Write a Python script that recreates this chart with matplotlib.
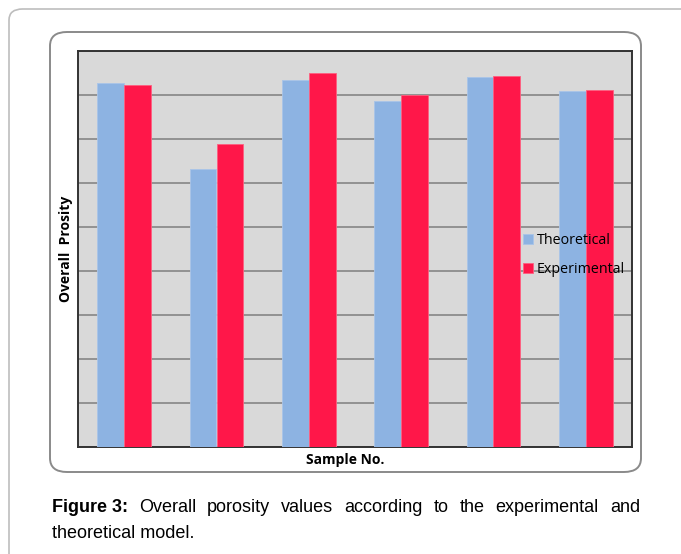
import matplotlib.pyplot as plt
import numpy as np
from matplotlib.patches import FancyBboxPatch

# porosity values (%) per sample
samples = ["1", "2", "3", "4", "5", "6"]
theoretical = [41.4, 31.6, 41.7, 39.3, 42.0, 40.5]
experimental = [41.1, 34.4, 42.5, 40.0, 42.2, 40.6]

W, H = 681, 554
fig = plt.figure(figsize=(W / 100, H / 100), dpi=100)

def fx(px):
    return px / W

def fy(py):
    return 1 - py / H

# page frame (runs off right/bottom) and rounded chart box
outer = FancyBboxPatch((fx(9), fy(600)), fx(720), (600 - 9) / H,
                       boxstyle="round,pad=0,rounding_size=0.02",
                       transform=fig.transFigure, fill=False,
                       edgecolor="#bdbdbd", lw=1.2)
fig.patches.append(outer)
inner = FancyBboxPatch((fx(50), fy(472)), fx(641 - 50), (472 - 32) / H,
                       boxstyle="round,pad=0,rounding_size=0.025",
                       transform=fig.transFigure, fill=False,
                       edgecolor="#8a8a8a", lw=1.4)
fig.patches.append(inner)

ax = fig.add_axes([fx(78), fy(447), fx(632 - 78), (447 - 51) / H])
ax.set_facecolor("#d9d9d9")

x = np.arange(len(samples))
w = 0.29
ax.bar(x - w / 2, theoretical, w, color="#8db3e2", edgecolor="#a9c4e8",
       lw=0.6, label="Theoretical", zorder=3)
ax.bar(x + w / 2, experimental, w, color="#ff1749", edgecolor="#ff5f80",
       lw=0.6, label="Experimental", zorder=3)

ax.set_xlim(-0.5, len(samples) - 0.5)
ax.set_ylim(0, 45)
ax.set_yticks(np.arange(0, 46, 5))
ax.yaxis.grid(True, color="#8c8c8c", lw=1.3, zorder=1)
ax.tick_params(left=False, bottom=False, labelleft=False, labelbottom=False)
for s in ax.spines.values():
    s.set_color("#333333")
    s.set_linewidth(1.4)

leg = ax.legend(loc="center left", bbox_to_anchor=(0.803, 0.484), frameon=False,
                prop={"family": "Open Sans", "size": 10.3}, handlelength=0.7,
                handleheight=0.7, handletextpad=0.25, labelspacing=1.0,
                borderpad=0, borderaxespad=0)
leg.set_zorder(5)

fig.text(fx(66), fy(249), "Overall  Prosity", rotation=90, ha="center",
         va="center", fontsize=10, fontweight="bold", family="Open Sans")
fig.text(fx(345.5), fy(460), "Sample No.", ha="center", va="center",
         fontsize=10, fontweight="bold", family="Open Sans")

# justified caption, first line spread across the box width
line1 = ["Overall", "porosity", "values", "according", "to", "the",
         "experimental", "and"]
fig.canvas.draw()
r = fig.canvas.get_renderer()
cap_kw = dict(fontsize=13, family="Liberation Sans", va="baseline")
y1 = fy(511.5)
head = fig.text(fx(52), y1, "Figure 3:", fontweight="bold", **cap_kw)
words = [fig.text(0, y1, t, **cap_kw) for t in line1]
head_w = head.get_window_extent(r).width
widths = [t.get_window_extent(r).width for t in words]
left, right = 52, 640
gap = (right - left - head_w - sum(widths)) / len(words)
pos = left + head_w + gap
for t, wd in zip(words, widths):
    t.set_x(fx(pos))
    pos += wd + gap
fig.text(fx(52), fy(538), "theoretical model.", **cap_kw)

fig.savefig("out.png", dpi=100)
